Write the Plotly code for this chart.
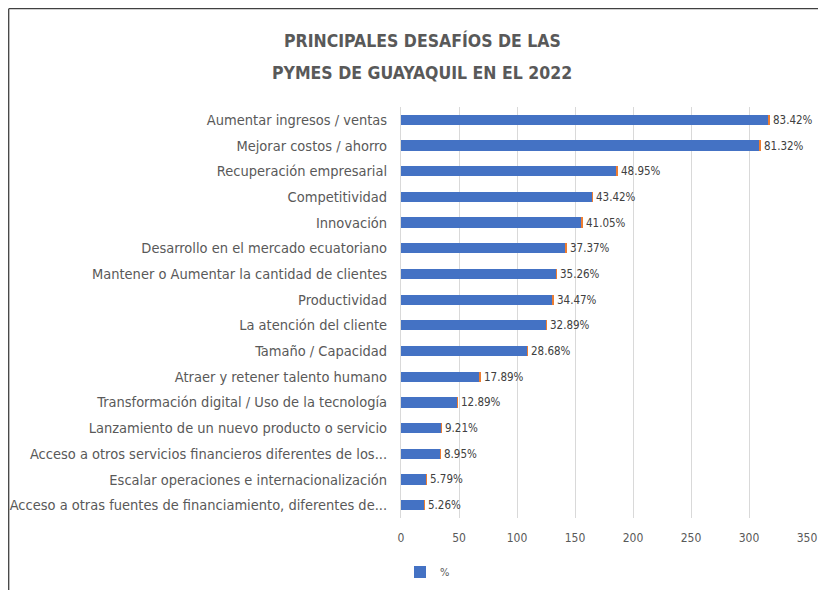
import plotly.graph_objects as go

categories = [
    "Aumentar ingresos / ventas",
    "Mejorar costos / ahorro",
    "Recuperación empresarial",
    "Competitividad",
    "Innovación",
    "Desarrollo en el mercado ecuatoriano",
    "Mantener o Aumentar la cantidad de clientes",
    "Productividad",
    "La atención del cliente",
    "Tamaño / Capacidad",
    "Atraer y retener talento humano",
    "Transformación digital / Uso de la tecnología",
    "Lanzamiento de un nuevo producto o servicio",
    "Acceso a otros servicios financieros diferentes de los...",
    "Escalar operaciones e internacionalización",
    "Acceso a otras fuentes de financiamiento, diferentes de...",
]
counts = [317, 309, 186, 165, 156, 142, 134, 131, 125, 109, 68, 49, 35, 34, 22, 20]
percent = [83.42, 81.32, 48.95, 43.42, 41.05, 37.37, 35.26, 34.47, 32.89, 28.68,
           17.89, 12.89, 9.21, 8.95, 5.79, 5.26]
percent_labels = [f"{p:.2f}%" for p in percent]
x_ticks = [0, 50, 100, 150, 200, 250, 300, 350]
title_lines = ["PRINCIPALES DESAFÍOS DE LAS", "PYMES DE GUAYAQUIL EN EL 2022"]

FONT = "DejaVu Sans Condensed, Liberation Sans Narrow, sans-serif"

# page has an 8px body margin: figure origin sits at page (8, 8)
OFF = 8
W, H = 826 - OFF, 590 - OFF
PL, PR, PT, PB = 401 - OFF, 807 - OFF, 107 - OFF, 518 - OFF  # plot area in figure px

def px_x(p):  # page px -> paper
    return (p - OFF - PL) / (PR - PL)

def px_y(p):
    return (PB - (p - OFF)) / (PB - PT)

def cx(p):  # page px -> container fraction
    return (p - OFF) / W

def cy(p):
    return (H - (p - OFF)) / H

fig = go.Figure()
fig.add_trace(go.Bar(
    y=categories, x=counts, orientation="h", name="%",
    marker=dict(color="#4472C4", line=dict(width=0)),
    width=0.4, hoverinfo="x+y",
))
fig.add_trace(go.Bar(
    y=categories, x=[p / 100 for p in percent], orientation="h", name="% ",
    marker=dict(color="#ED7D31", line=dict(width=0)),
    width=0.4, showlegend=False,
    text=percent_labels, textposition="outside", cliponaxis=False,
    constraintext="none",
    textfont=dict(family=FONT, size=11.5, color="#404040"),
))

annotations = [
    dict(text=t, xref="paper", yref="paper", x=px_x(422), y=px_y(yy),
         xanchor="center", yanchor="middle", showarrow=False,
         font=dict(family=FONT, size=17.5, color="#595959", weight="bold"))
    for t, yy in zip(title_lines, [40, 73])
]

fig.update_layout(
    barmode="stack",
    width=W, height=H,
    margin=dict(l=PL, r=W - PR, t=PT, b=H - PB, autoexpand=False),
    paper_bgcolor="white", plot_bgcolor="white",
    font=dict(family=FONT, color="#595959"),
    annotations=annotations,
    xaxis=dict(
        range=[0, 350], tickvals=x_ticks, showgrid=True, gridcolor="#D9D9D9",
        gridwidth=1, zeroline=False, showline=False, automargin=False,
        tickfont=dict(family=FONT, size=12, color="#595959"),
        ticklabelstandoff=11,
    ),
    yaxis=dict(
        autorange="reversed", showgrid=False, showline=True, linecolor="#D9D9D9",
        automargin=False,
        tickfont=dict(family=FONT, size=14.5, color="#595959"),
        ticklabelstandoff=10,
    ),
    legend=dict(
        orientation="h", xref="container", yref="container",
        x=cx(400), xanchor="left", y=cy(572), yanchor="middle",
        font=dict(family=FONT, size=11, color="#595959"),
        itemwidth=30,
    ),
    bargap=0.6,
    shapes=[
        dict(type="line", xref="paper", yref="paper", x0=px_x(8.7), x1=px_x(8.7),
             y0=px_y(8.7), y1=px_y(600), line=dict(color="#404040", width=1.3)),
        dict(type="line", xref="paper", yref="paper", x0=px_x(8.7), x1=px_x(830),
             y0=px_y(8.7), y1=px_y(8.7), line=dict(color="#404040", width=1.3)),
    ],
)

fig.write_html("out.html")
